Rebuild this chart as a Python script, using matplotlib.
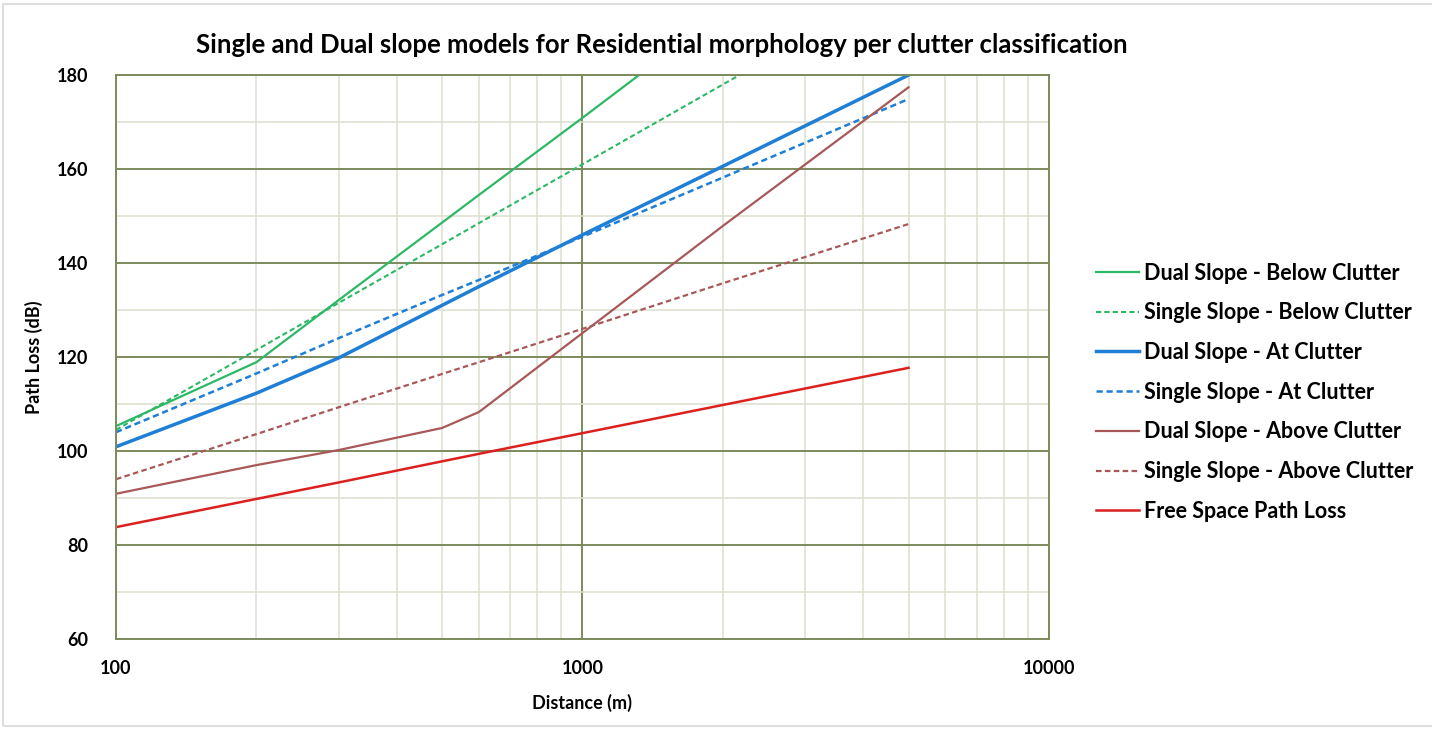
import matplotlib
matplotlib.use('Agg')
import matplotlib.pyplot as plt
from matplotlib.ticker import FixedLocator, NullFormatter
from matplotlib.patches import Rectangle

# Distances (m) and path loss values (dB)
dist = [100, 200, 300, 500, 600, 1000, 2000, 5000]

dual_below = [105.3, 118.9, 132.1, 148.6, 154.5, 170.9, 193.5, 223.4]
single_below = [104.5, 121.5, 131.5, 144.0, 148.5, 161.0, 178.0, 200.5]
dual_at = [100.9, 112.3, 119.8, 131.0, 135.0, 146.0, 160.6, 180.0]
single_at = [104.0, 116.5, 124.0, 133.2, 136.4, 145.6, 158.2, 174.9]
dual_above = [90.9, 97.0, 100.2, 104.9, 108.3, 125.1, 147.9, 177.4]
single_above = [94.0, 103.6, 109.3, 116.4, 118.9, 126.0, 135.7, 148.3]
free_space = [83.8, 89.8, 93.3, 97.8, 99.4, 103.8, 109.8, 117.7]

labels = ['Dual Slope - Below Clutter', 'Single Slope - Below Clutter',
          'Dual Slope - At Clutter', 'Single Slope - At Clutter',
          'Dual Slope - Above Clutter', 'Single Slope - Above Clutter',
          'Free Space Path Loss']

green = '#2db866'
blue = '#1f7fd6'
brown = '#a85858'
red = '#dc2020'

plt.rcParams['font.family'] = ['Lato', 'DejaVu Sans']
plt.rcParams['font.weight'] = 'bold'

fig = plt.figure(figsize=(14.32, 7.29), dpi=100)
ax = fig.add_axes([0.081, 0.1235, 0.6515, 0.7735])

ax.plot(dist, dual_below, color=green, lw=1.6, label=labels[0])
ax.plot(dist, single_below, color=green, lw=1.5, ls=(0, (2.5, 1.5)), label=labels[1])
ax.plot(dist, dual_at, color=blue, lw=2.5, label=labels[2])
ax.plot(dist, single_at, color=blue, lw=1.8, ls=(0, (2.5, 1.5)), label=labels[3])
ax.plot(dist, dual_above, color=brown, lw=1.6, label=labels[4])
ax.plot(dist, single_above, color=brown, lw=1.6, ls=(0, (2.5, 1.5)), label=labels[5])
ax.plot(dist, free_space, color=red, lw=1.8, label=labels[6])

ax.set_xscale('log')
ax.set_xlim(100, 10000)
ax.set_ylim(60, 180)
ax.set_xticks([100, 1000, 10000])
ax.set_xticklabels(['100', '1000', '10000'])
ax.xaxis.set_minor_formatter(NullFormatter())
ax.set_yticks(range(60, 181, 20))
ax.yaxis.set_minor_locator(FixedLocator(range(70, 180, 20)))
ax.tick_params(which='both', length=0)
ax.tick_params(axis='x', pad=15, labelsize=13)
ax.tick_params(axis='y', pad=20, labelsize=13)

ax.grid(True, which='major', color='#7d8a5c', lw=1.4)
ax.grid(True, which='minor', color='#dcdfcf', lw=1.1)
ax.set_axisbelow(True)
for s in ax.spines.values():
    s.set_color('#7d8a5c')
    s.set_linewidth(1.4)

fig.text(0.4623, 0.938, 'Single and Dual slope models for Residential morphology per clutter classification',
         fontsize=18.5, fontweight='bold', ha='center', va='center')
ax.set_xlabel('Distance (m)', fontsize=13, fontweight='bold', labelpad=12)
ax.set_ylabel('Path Loss (dB)', fontsize=13, fontweight='bold', labelpad=10)

fig.legend(loc='center left', bbox_to_anchor=(0.752, 0.462), frameon=False,
           fontsize=15.5, handlelength=2.0, handletextpad=0.2, labelspacing=0.87)

fig.patches.append(Rectangle((0.002, 0.004), 1.2, 0.99, transform=fig.transFigure,
                             fill=False, edgecolor='#dddddd', lw=1.5))

fig.savefig('out.png', dpi=100)
